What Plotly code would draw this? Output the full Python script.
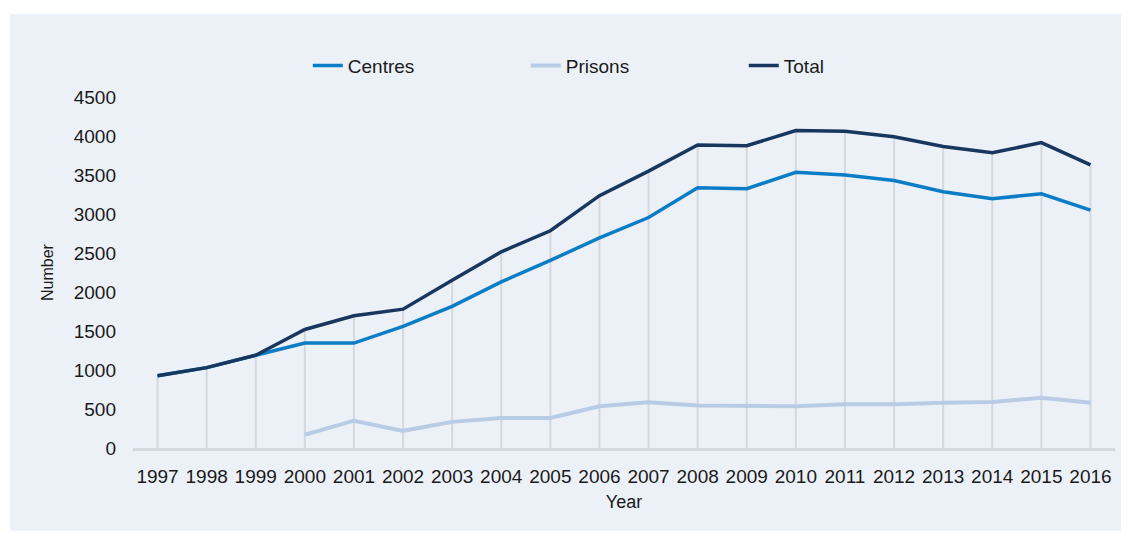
import plotly.graph_objects as go

# data
years = list(range(1997, 2017))
centres = [925, 1030, 1190, 1345, 1345, 1560, 1815, 2130, 2405, 2695,
           2955, 3335, 3325, 3535, 3500, 3430, 3285, 3195, 3260, 3050]
prisons = [None, None, None, 170, 350, 220, 335, 385, 385, 535,
           585, 545, 545, 535, 560, 560, 580, 590, 645, 580]
total = [925, 1030, 1190, 1520, 1695, 1780, 2150, 2515, 2785, 3235,
         3550, 3885, 3875, 4070, 4060, 3990, 3865, 3785, 3915, 3630]
y_ticks = [0, 500, 1000, 1500, 2000, 2500, 3000, 3500, 4000, 4500]

panel = '#ECF1F8'
font = 'Liberation Sans, Arial, sans-serif'

# drop lines from the axis up to the total for each year
drop_x = []
drop_y = []
for yr, t in zip(years, total):
    drop_x += [yr, yr, None]
    drop_y += [0, t, None]

fig = go.Figure()
fig.add_trace(go.Scatter(x=drop_x, y=drop_y, mode='lines',
                         line=dict(color='#D4D8DE', width=2),
                         showlegend=False, hoverinfo='skip'))
fig.add_trace(go.Scatter(x=years, y=centres, name='Centres', mode='lines',
                         line=dict(color='#0B7DC6', width=3.5)))
fig.add_trace(go.Scatter(x=years, y=prisons, name='Prisons', mode='lines',
                         line=dict(color='#B8CDE5', width=4)))
fig.add_trace(go.Scatter(x=years, y=total, name='Total', mode='lines',
                         line=dict(color='#17375E', width=3.5)))

# page body has an 8px margin, so the margins are shifted by that
fig.update_layout(
    width=1131, height=534,
    margin=dict(l=125, r=24, t=89, b=94),
    paper_bgcolor='white',
    plot_bgcolor=panel,
    font=dict(family=font, size=19, color='#1a1a1a'),
    legend=dict(orientation='h', x=0.178, y=1.089, xanchor='left', yanchor='middle',
                font=dict(size=19), bgcolor='rgba(0,0,0,0)',
                entrywidth=173, entrywidthmode='pixels', traceorder='normal'),
    shapes=[dict(type='rect', xref='paper', yref='paper', layer='below',
                 x0=-0.1253, x1=1.0061, y0=-0.236, y1=1.2365,
                 fillcolor=panel, line=dict(width=0))],
)
fig.update_xaxes(
    range=[1996.5, 2016.5], tickvals=years, ticktext=[str(y) for y in years],
    showgrid=False, zeroline=False,
    showline=True, linecolor='#D4D8DE', linewidth=3,
    ticks='', ticklabelstandoff=9,
    title=dict(text='Year', standoff=10, font=dict(size=18)),
)
fig.update_yaxes(
    range=[0, 4500], tickvals=y_ticks,
    showgrid=False, zeroline=False, showline=False,
    ticks='', ticklabelstandoff=16,
    title=dict(text='Number', standoff=16, font=dict(size=16)),
)

fig.write_html('out.html')
